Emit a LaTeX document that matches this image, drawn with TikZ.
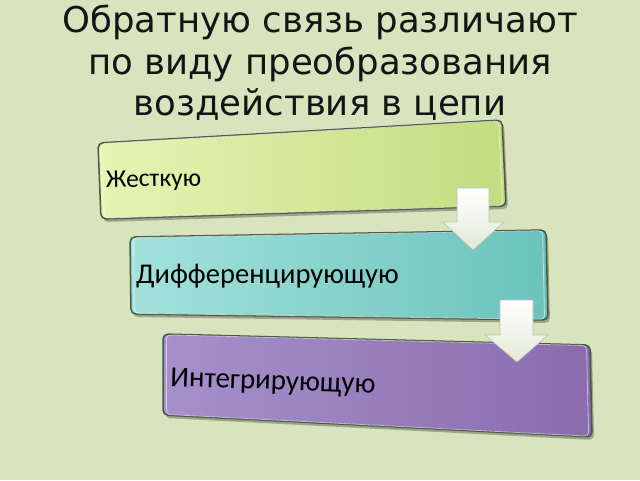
\documentclass[tikz,border=0pt]{standalone}
\usepackage{fontspec}
\setmainfont{DejaVu Sans}
\newfontfamily\boxfont{Carlito}
\usetikzlibrary{calc}
\definecolor{bgc}{HTML}{D7E4BD}
\definecolor{gA}{HTML}{E6F4B4}
\definecolor{gB}{HTML}{C2DD80}
\definecolor{tA}{HTML}{A2E2DC}
\definecolor{tB}{HTML}{6AC3BB}
\definecolor{pA}{HTML}{A690CC}
\definecolor{pB}{HTML}{8A6CAE}
\definecolor{edgec}{HTML}{4E5648}
\definecolor{arrB}{HTML}{E3E8D6}
\begin{document}
\begin{tikzpicture}[x=1pt,y=-1pt,
  titletext/.style={font=\fontsize{35.5}{40}\selectfont, text=black!92, inner sep=0pt, anchor=base},
  boxtext/.style={font=\boxfont\fontsize{#1}{36}\selectfont, text=black, inner sep=0pt, anchor=base west},
  panelshadow/.style={fill=black, opacity=0.28, rounded corners=5pt},
  paneledge/.style={draw=edgec, line width=1.5pt, rounded corners=5pt},
  panelgloss/.style={draw=white, opacity=0.55, line width=0.8pt, rounded corners=4pt},
  blockarrow/.style={top color=white, bottom color=arrB, draw=black!25, line width=0.6pt}
]
\useasboundingbox (0,0) rectangle (640,480);
\fill[bgc] (0,0) rectangle (640,480);

% title
\node[titletext] (title1) at (320,32) {Обратную связь различают};
\node[titletext] (title2) at (320,74) {по виду преобразования};
\node[titletext] (title3) at (320,115) {воздействия в цепи};

% box corners
\coordinate (a1) at (98,143);  \coordinate (b1) at (502,120);
\coordinate (c1) at (506,206); \coordinate (d1) at (101,219);
\coordinate (a2) at (130,237); \coordinate (b2) at (546,230);
\coordinate (c2) at (548,320); \coordinate (d2) at (131,314);
\coordinate (a3) at (163,334); \coordinate (b3) at (590,345);
\coordinate (c3) at (592,437); \coordinate (d3) at (163,415);

% panels
\foreach \i/\ca/\cb in {1/gA/gB,2/tA/tB,3/pA/pB}{
  \fill[panelshadow] ([shift={(2,3)}]a\i) -- ([shift={(2,3)}]b\i) -- ([shift={(2,3)}]c\i) -- ([shift={(2,3)}]d\i) -- cycle;
  \shade[left color=\ca, right color=\cb, rounded corners=5pt] (a\i) -- (b\i) -- (c\i) -- (d\i) -- cycle;
  \draw[paneledge] (a\i) -- (b\i) -- (c\i) -- (d\i) -- cycle;
  \draw[panelgloss] ($(a\i)!3.5pt!(c\i)$) -- ($(b\i)!3.5pt!(d\i)$) -- ($(c\i)!3.5pt!(a\i)$) -- ($(d\i)!3.5pt!(b\i)$) -- cycle;
}

% labels
\node[boxtext=25.5, rotate=1] (t1) at (106,187.5) {Жесткую};
\node[boxtext=28.6] (t2) at (136,283.5) {Дифференцирующую};
\node[boxtext=29, rotate=-2] (t3) at (170,386) {Интегрирующую};

% block arrows
\draw[blockarrow] (457,188) -- (489,188) -- (489,222) -- (504,222) -- (473,250) -- (443,222) -- (457,222) -- cycle;
\draw[blockarrow] (500,300) -- (533,300) -- (533,335) -- (548,335) -- (517,362) -- (485,335) -- (500,335) -- cycle;
\end{tikzpicture}
\end{document}
